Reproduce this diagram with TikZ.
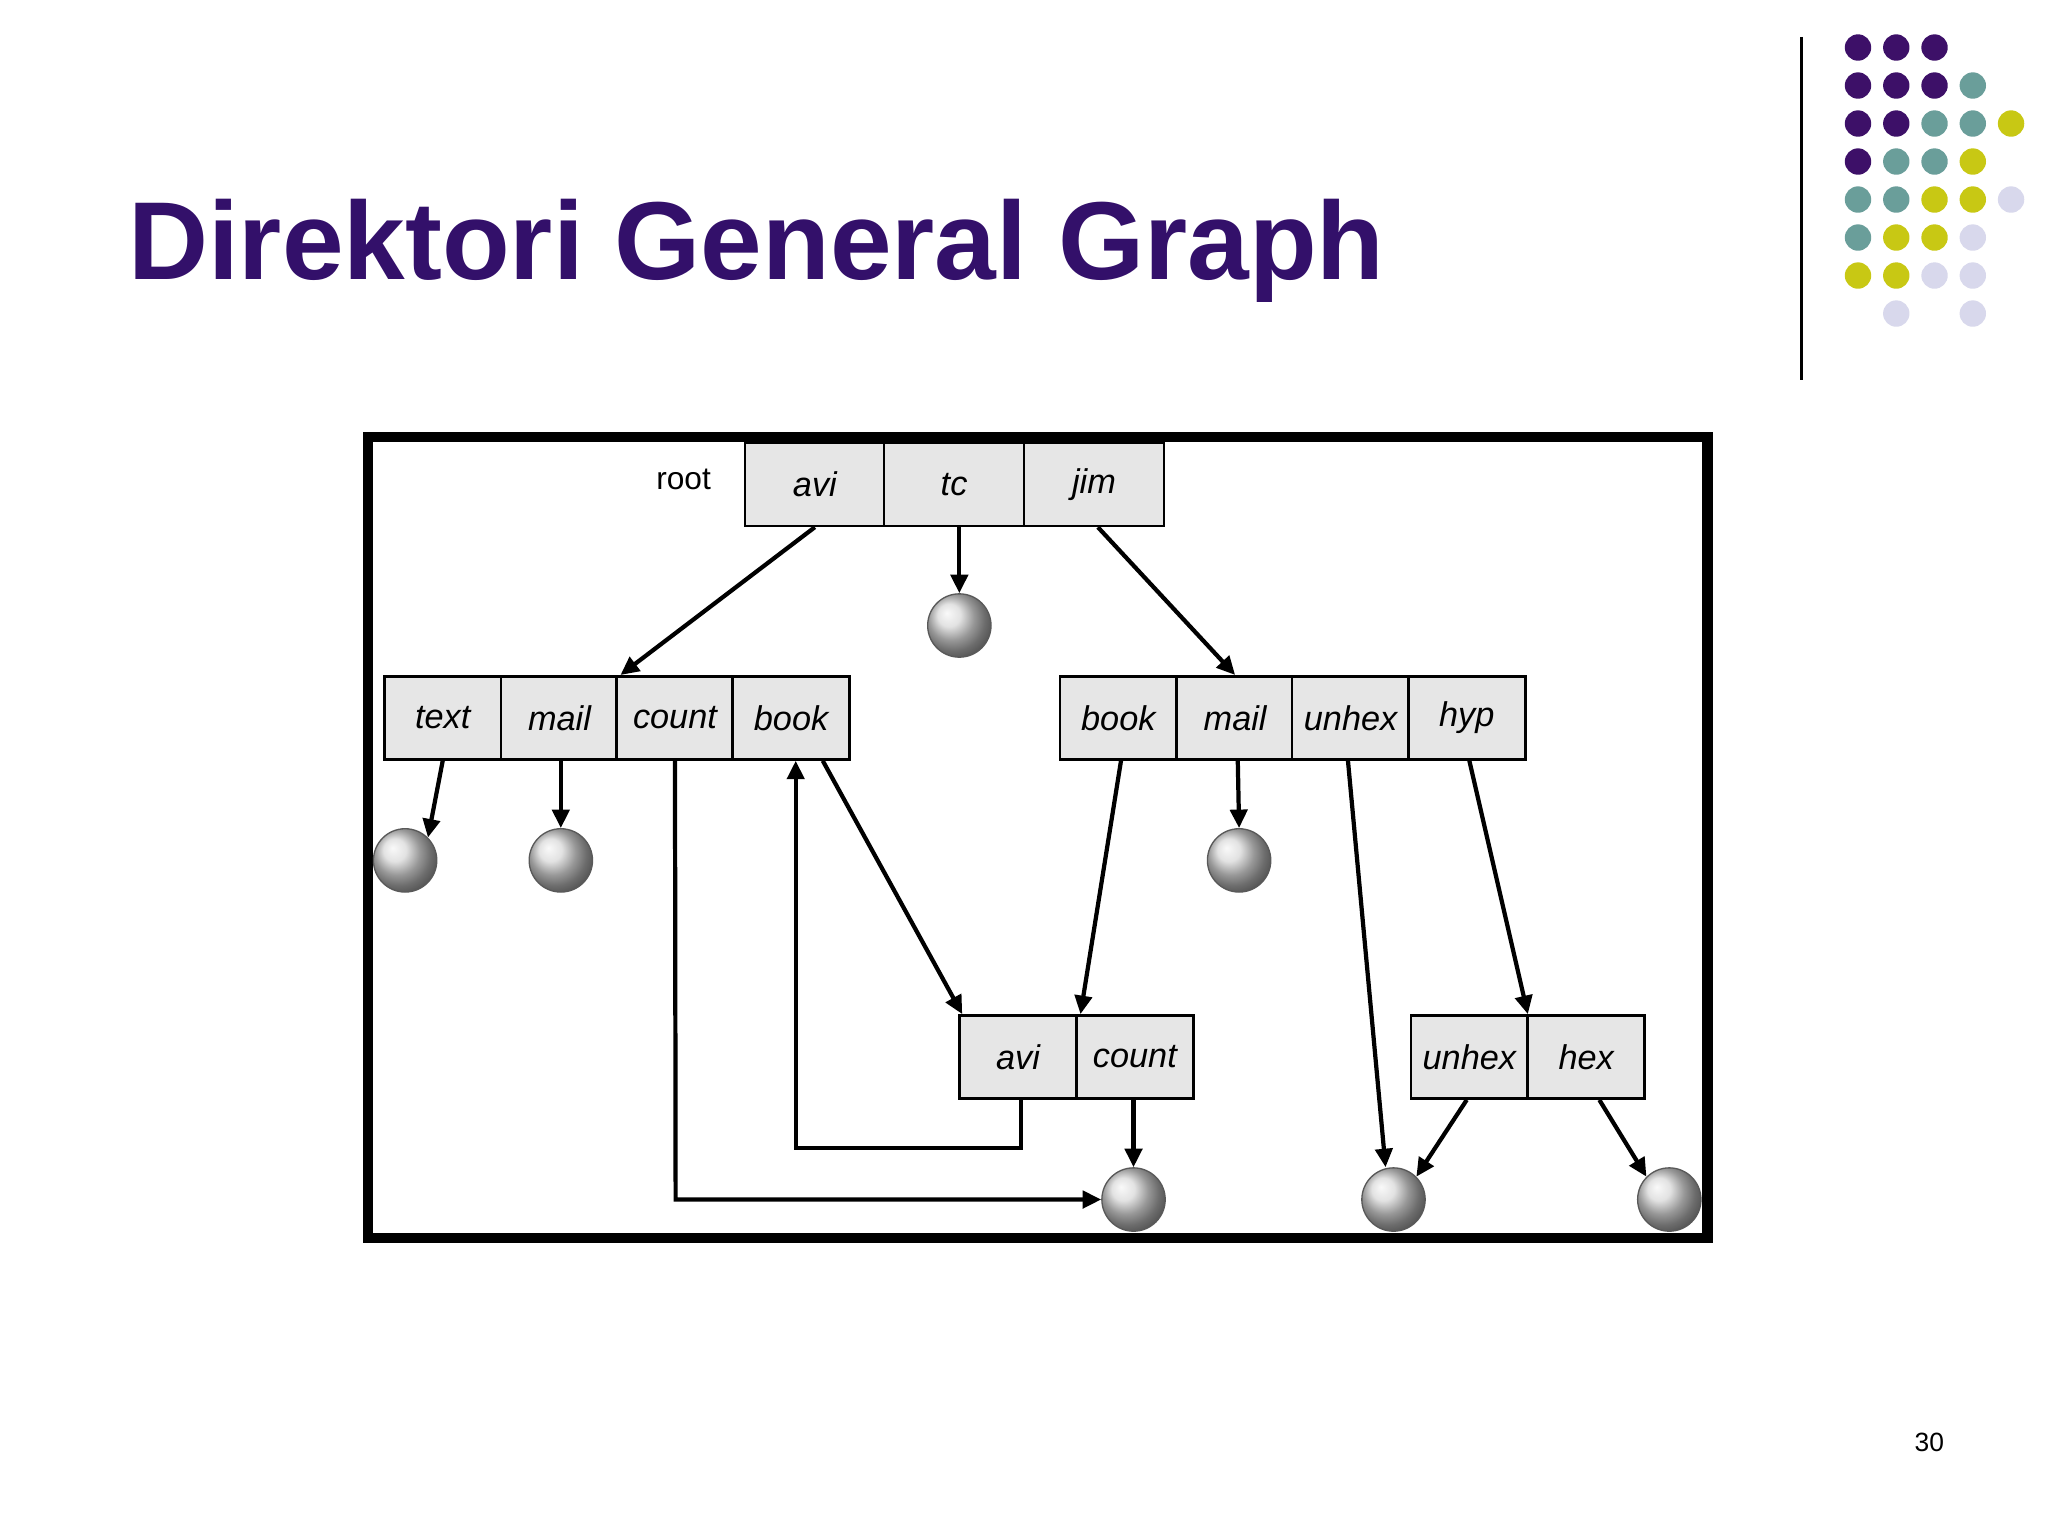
\documentclass[tikz,border=0pt]{standalone}
\usepackage{fontspec}
\setmainfont{Liberation Sans}
\usetikzlibrary{arrows.meta}
\definecolor{tpurple}{HTML}{33106A}
\definecolor{dP}{HTML}{3D1068}
\definecolor{dT}{HTML}{6A9E9A}
\definecolor{dY}{HTML}{C8C814}
\definecolor{dL}{HTML}{D8D8EC}
\definecolor{boxfill}{HTML}{E6E6E6}
\tikzset{
  box/.style={draw=black,line width=1pt,fill=boxfill,minimum height=31.5pt,inner sep=0pt,font=\fontsize{13}{15}\selectfont\itshape},
  wbox/.style={box,minimum width=53pt},
  nbox/.style={box,minimum width=44.3pt},
  ball/.style={circle,minimum size=24pt,inner sep=0pt,draw=gray!70!black,line width=0.5pt,shade,ball color=gray!30},
  conn/.style={line width=1.6pt,-{Triangle[length=7pt,width=6.5pt]}},
  dot/.style={circle,minimum size=10pt,inner sep=0pt}
}
\begin{document}
\begin{tikzpicture}[x=0.5pt,y=-0.5pt]
\useasboundingbox (0,0) rectangle (1552,1164);
\fill[white] (0,0) rectangle (1552,1164);
\node[anchor=west,font=\fontsize{42}{46}\selectfont\bfseries,text=tpurple] (title) at (90,190) {Direktori General Graph};
\draw[line width=1pt] (1365,28) -- (1365,288);
% dots
\foreach \c/\x/\y in {P/0/0,P/1/0,P/2/0,
 P/0/1,P/1/1,P/2/1,T/3/1,
 P/0/2,P/1/2,T/2/2,T/3/2,Y/4/2,
 P/0/3,T/1/3,T/2/3,Y/3/3,
 T/0/4,T/1/4,Y/2/4,Y/3/4,L/4/4,
 T/0/5,Y/1/5,Y/2/5,L/3/5,
 Y/0/6,Y/1/6,L/2/6,L/3/6,
 L/1/7,L/3/7}
 \node[dot,fill=d\c] (d\x\y) at ({1408+29*\x},{36+28.8*\y}) {};
\node[font=\fontsize{10}{12}\selectfont] (pg) at (1462,1093) {30};
% frame
\draw[line width=4pt] (279,331) rectangle (1294,938);
% root
\node[font=\fontsize{12}{14}\selectfont] (rootlbl) at (518,363) {root};
\node[wbox] (ravi) at (617.5,367) {avi};
\node[wbox] (rtc) at (723,367) {tc};
\node[wbox] (rjim) at (829,367) {jim};
% left row
\node[nbox] (ltext) at (335.5,544) {text};
\node[nbox] (lmail) at (424,544) {mail};
\node[nbox] (lcount) at (511.5,544) {count};
\node[nbox] (lbook) at (599.5,544) {book};
% right row
\node[nbox] (rbook) at (847.5,544) {book};
\node[nbox] (rmail) at (936,544) {mail};
\node[nbox] (runhex) at (1023.5,544) {unhex};
\node[nbox] (rhyp) at (1111.5,544) {hyp};
% bottom rows
\node[nbox] (bavi) at (771.5,801) {avi};
\node[nbox] (bcount) at (860,801) {count};
\node[nbox] (bunhex) at (1113.5,801) {unhex};
\node[nbox] (bhex) at (1202,801) {hex};
% balls
\node[ball] (b1) at (727,474) {};
\node[ball] (b2) at (307,652) {};
\node[ball] (b3) at (425,652) {};
\node[ball] (b4) at (939,652) {};
\node[ball] (b5) at (859,909) {};
\node[ball] (b6) at (1056,909) {};
\node[ball] (b7) at (1265,909) {};
\coordinate (bend1) at (774,870);
\coordinate (bend2) at (603,870);
\coordinate (bend3) at (512,909);
% connectors
\draw[conn] (ravi.south) -- ([xshift=2pt]lcount.north west);
\draw[conn] ([xshift=2pt]rtc.south) -- (b1.north);
\draw[conn] ([xshift=1.5pt]rjim.south) -- (rmail.north);
\draw[conn] (ltext.south) -- (b2.north east);
\draw[conn] ([xshift=0.5pt]lmail.south) -- (b3.north);
\draw[conn] (lcount.south) -- (bend3) -- (b5.west);
\draw[conn] (bavi.south -| bend1) -- (bend1) -- (bend2) -- (bend2 |- lbook.south);
\draw[conn] ([xshift=12pt]lbook.south) -- ([xshift=1.5pt]bavi.north west);
\draw[conn] ([xshift=1pt]rbook.south) -- ([xshift=1pt]bavi.north east);
\draw[conn] ([xshift=1pt]rmail.south) -- (b4.north);
\draw[conn] ([xshift=-1pt]runhex.south) -- ([xshift=-3pt]b6.north);
\draw[conn] ([xshift=1pt]rhyp.south) -- ([xshift=-0.5pt]bunhex.north east);
\draw[conn] ([xshift=-0.5pt]bcount.south) -- (b5.north);
\draw[conn] ([xshift=-1pt]bunhex.south) -- (b6.north east);
\draw[conn] ([xshift=5pt]bhex.south) -- (b7.north west);
\end{tikzpicture}
\end{document}
